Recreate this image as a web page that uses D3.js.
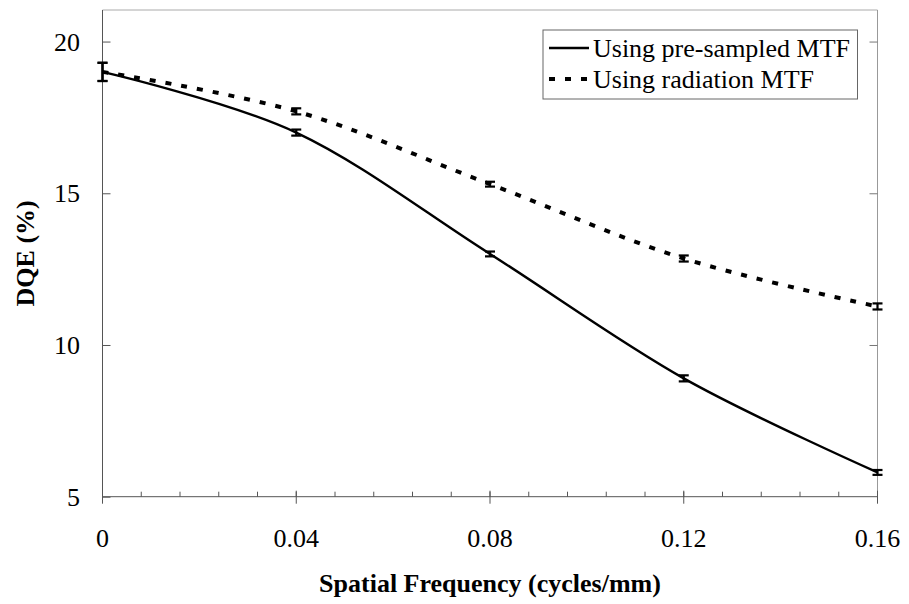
<!DOCTYPE html>
<html><head><meta charset="utf-8">
<script src="https://cdn.jsdelivr.net/npm/d3@7"></script>
<style>
html,body{margin:0;padding:0;background:#fff;}
svg{display:block;}
</style></head>
<body>
<svg id="chart" width="909" height="604" font-family="'Liberation Serif', 'Times New Roman', Times, 'DejaVu Serif', serif"></svg>
<script>
// ---- data ----
const frequencies = [0, 0.04, 0.08, 0.12, 0.16];
const preSampled = [19.0, 17.0, 13.0, 8.9, 5.8];
const preSampledErr = [0.3, 0.1, 0.08, 0.1, 0.08];
const radiation = [19.0, 17.7, 15.3, 12.85, 11.27];
const radiationErr = [0.3, 0.1, 0.08, 0.1, 0.1];
const seriesNames = ["Using pre-sampled MTF", "Using radiation MTF"];
const xTickValues = [0, 0.04, 0.08, 0.12, 0.16];
const xTickLabels = ["0", "0.04", "0.08", "0.12", "0.16"];
const yTickValues = [5, 10, 15, 20];
const xTitle = "Spatial Frequency (cycles/mm)";
const yTitle = "DQE (%)";

const FONT = "'Liberation Serif', 'Times New Roman', Times, 'DejaVu Serif', serif";
const svg = d3.select("#chart");
const L = 102.5, R = 877.5, T = 10, B = 496.7;
const x = d3.scaleLinear().domain([0, 0.16]).range([L, R]);
const y = d3.scaleLinear().domain([5, 21.04]).range([B, T]);

// frame
const axisCol = "#555";
svg.append("line").attr("x1", L).attr("x2", R).attr("y1", T).attr("y2", T).attr("stroke", "#aaa").attr("stroke-width", 1);
svg.append("line").attr("x1", R).attr("x2", R).attr("y1", T).attr("y2", B).attr("stroke", "#999").attr("stroke-width", 1);

// y axis (left), inward ticks
const yAxis = d3.axisRight(y).tickValues(yTickValues).tickSize(8).tickFormat("");
const gy = svg.append("g").attr("transform", `translate(${L},0)`).call(yAxis);
gy.select(".domain").attr("stroke", axisCol).attr("d", `M0,${T}V${B}`);
gy.selectAll(".tick line").attr("stroke", axisCol);
// right ticks mirrored
const yAxisR = d3.axisLeft(y).tickValues(yTickValues.filter(v => v > 5)).tickSize(8).tickFormat("");
const gyr = svg.append("g").attr("transform", `translate(${R},0)`).call(yAxisR);
gyr.select(".domain").remove();
gyr.selectAll(".tick line").attr("stroke", "#777");

// y labels
svg.append("g").selectAll("text").data(yTickValues).join("text")
  .attr("x", 80).attr("y", d => y(d)).attr("dy", "0.35em")
  .attr("text-anchor", "end").attr("font-size", 26).attr("font-family", FONT).text(d => d);

// x axis
const minor = d3.range(0, 0.1601, 0.008);
const gx = svg.append("g");
gx.append("line").attr("x1", L).attr("x2", R).attr("y1", B).attr("y2", B).attr("stroke", axisCol);
gx.selectAll("line.minor").data(minor).join("line").attr("class", "minor")
  .attr("x1", d => x(d)).attr("x2", d => x(d)).attr("y1", B).attr("y2", B - 5).attr("stroke", axisCol);
gx.selectAll("line.major").data(xTickValues).join("line").attr("class", "major")
  .attr("x1", d => x(d)).attr("x2", d => x(d)).attr("y1", B - 6).attr("y2", B + 7).attr("stroke", axisCol);
gx.selectAll("text").data(xTickValues).join("text")
  .attr("x", d => x(d)).attr("y", 547).attr("text-anchor", "middle").attr("font-size", 26)
  .attr("font-family", FONT).text((d, i) => xTickLabels[i]);

// titles
svg.append("text").attr("x", (L + R) / 2).attr("y", 592).attr("text-anchor", "middle")
  .attr("font-size", 26).attr("font-weight", "bold").attr("font-family", FONT).text(xTitle);
svg.append("text").attr("transform", `translate(34,${(T + B) / 2}) rotate(-90)`)
  .attr("text-anchor", "middle").attr("font-size", 26).attr("font-weight", "bold")
  .attr("font-family", FONT).text(yTitle);

// lines
const line = d3.line().x(d => x(d[0])).y(d => y(d[1])).curve(d3.curveCatmullRom.alpha(0));
const preData = frequencies.map((f, i) => [f, preSampled[i], preSampledErr[i]]);
const radData = frequencies.map((f, i) => [f, radiation[i], radiationErr[i]]);

svg.append("path").datum(radData).attr("d", line).attr("fill", "none")
  .attr("stroke", "#000").attr("stroke-width", 4).attr("stroke-dasharray", "6,10");
svg.append("path").datum(preData).attr("d", line).attr("fill", "none")
  .attr("stroke", "#000").attr("stroke-width", 2.4);

// error bars
function errBars(data) {
  const g = svg.append("g").attr("stroke", "#000").attr("stroke-width", 2.2);
  g.selectAll("line.v").data(data).join("line").attr("class", "v")
    .attr("x1", d => x(d[0])).attr("x2", d => x(d[0]))
    .attr("y1", d => y(d[1] - d[2])).attr("y2", d => y(d[1] + d[2]));
  g.selectAll("line.t").data(data).join("line").attr("class", "t")
    .attr("x1", d => x(d[0]) - 5).attr("x2", d => x(d[0]) + 5)
    .attr("y1", d => y(d[1] + d[2])).attr("y2", d => y(d[1] + d[2]));
  g.selectAll("line.b").data(data).join("line").attr("class", "b")
    .attr("x1", d => x(d[0]) - 5).attr("x2", d => x(d[0]) + 5)
    .attr("y1", d => y(d[1] - d[2])).attr("y2", d => y(d[1] - d[2]));
}
errBars(preData);
errBars(radData);

// legend
const lg = svg.append("g");
const lx = 543, ly = 30, lw = 857.5 - 543, lh = 69;
lg.append("rect").attr("x", lx).attr("y", ly).attr("width", lw).attr("height", lh)
  .attr("fill", "#fff").attr("stroke", "#666").attr("stroke-width", 1);
const rows = [{name: seriesNames[0], dash: null, w: 2.4}, {name: seriesNames[1], dash: "6,10", w: 4}];
rows.forEach((r, i) => {
  const cy = ly + 18 + i * 31;
  lg.append("line").attr("x1", lx + 6).attr("x2", lx + 46).attr("y1", cy).attr("y2", cy)
    .attr("stroke", "#000").attr("stroke-width", r.w).attr("stroke-dasharray", r.dash);
  lg.append("text").attr("x", lx + 50).attr("y", cy).attr("dy", "0.33em")
    .attr("font-size", 26).attr("font-family", FONT).text(r.name);
});
</script>
</body></html>
